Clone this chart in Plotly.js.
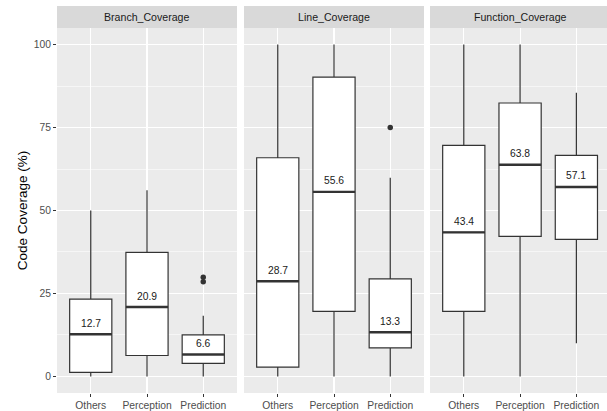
<!DOCTYPE html>
<html>
<head>
<meta charset="utf-8">
<script src="https://cdn.plot.ly/plotly-3.0.1.min.js"></script>
<style>html,body{margin:0;padding:0;background:#fff;}#chart{width:607px;height:411px;}</style>
</head>
<body>
<div id="chart"></div>
<script>
// ---- data ----
const categories = ["Others", "Perception", "Prediction"];
const panels = ["Branch_Coverage", "Line_Coverage", "Function_Coverage"];

const branchLower  = [0, 0, 0];
const branchQ1     = [1.2, 6.3, 3.9];
const branchMedian = [12.7, 20.9, 6.6];
const branchQ3     = [23.3, 37.4, 12.5];
const branchUpper  = [50, 56.1, 18.3];
const branchOutX   = ["Prediction", "Prediction"];
const branchOutY   = [28.5, 29.9];

const lineLower  = [0, 0, 0];
const lineQ1     = [2.8, 19.6, 8.6];
const lineMedian = [28.7, 55.6, 13.3];
const lineQ3     = [65.9, 90.2, 29.4];
const lineUpper  = [100, 100, 59.9];
const lineOutX   = ["Prediction"];
const lineOutY   = [75];

const funcLower  = [0, 0, 10.0];
const funcQ1     = [19.6, 42.2, 41.3];
const funcMedian = [43.4, 63.8, 57.1];
const funcQ3     = [69.6, 82.4, 66.6];
const funcUpper  = [100, 100, 85.5];
const funcOutX   = [];
const funcOutY   = [];

const yTicks = [0, 25, 50, 75, 100];
const yMinor = [12.5, 37.5, 62.5, 87.5];

// ---- build ----
const stats = [
  {lo: branchLower, q1: branchQ1, med: branchMedian, q3: branchQ3, hi: branchUpper, ox: branchOutX, oy: branchOutY},
  {lo: lineLower, q1: lineQ1, med: lineMedian, q3: lineQ3, hi: lineUpper, ox: lineOutX, oy: lineOutY},
  {lo: funcLower, q1: funcQ1, med: funcMedian, q3: funcQ3, hi: funcUpper, ox: funcOutX, oy: funcOutY}
];
const BW = 0.75;
const idx = categories.map((c, i) => i);
const traces = [];
const annotations = [];
const shapes = [];
const W = 607, H = 411, ML = 57, MT = 28, MB = 18;
const plotW = W - ML, plotH = H - MT - MB;
const stripTop = 6;
const FONT = 'Liberation Sans, Arial, sans-serif';

stats.forEach((s, k) => {
  const xa = k === 0 ? 'x' : 'x' + (k + 1);
  const ya = k === 0 ? 'y' : 'y' + (k + 1);
  traces.push({
    type: 'box', xaxis: xa, yaxis: ya,
    x: idx, q1: s.q1, median: s.med, q3: s.q3, lowerfence: s.lo, upperfence: s.hi,
    width: BW, whiskerwidth: 0, boxpoints: false,
    fillcolor: '#ffffff', line: {color: '#333333', width: 1.2},
    hoverinfo: 'skip', showlegend: false
  });
  const mx = [], my = [];
  s.med.forEach((m, i) => { mx.push(i - BW / 2, i + BW / 2, null); my.push(m, m, null); });
  traces.push({
    type: 'scatter', mode: 'lines', xaxis: xa, yaxis: ya, x: mx, y: my,
    line: {color: '#333333', width: 2.4}, hoverinfo: 'skip', showlegend: false
  });
  if (s.oy.length) {
    traces.push({
      type: 'scatter', mode: 'markers', xaxis: xa, yaxis: ya,
      x: s.ox.map(c => categories.indexOf(c)), y: s.oy,
      marker: {color: '#333333', size: 5.5}, hoverinfo: 'skip', showlegend: false
    });
  }
  s.med.forEach((m, i) => {
    annotations.push({
      xref: xa, yref: ya, x: i, y: m, text: m.toFixed(1), showarrow: false,
      yanchor: 'middle', yshift: 11,
      font: {family: FONT, size: 10.3, color: '#1a1a1a'}
    });
  });
  shapes.push({
    type: 'rect', xref: xa + ' domain', yref: 'paper', x0: 0, x1: 1,
    y0: 1, y1: 1 + (MT - stripTop) / plotH, fillcolor: '#d9d9d9', line: {width: 0}, layer: 'below'
  });
  annotations.push({
    xref: xa, yref: 'paper', x: 1, y: 1 + (MT - stripTop) / 2 / plotH, text: panels[k],
    showarrow: false, yanchor: 'middle',
    font: {family: FONT, size: 10.6, color: '#1a1a1a'}
  });
});

const tickFont = {family: FONT, size: 10.3, color: '#4d4d4d'};
function xAxis(domain, rangeEnd, anchor) {
  return {
    domain: domain, range: [-0.6, rangeEnd], anchor: anchor,
    tickmode: 'array', tickvals: idx, ticktext: categories,
    showgrid: true, gridcolor: '#ffffff', gridwidth: 1.1, zeroline: false,
    ticks: 'outside', ticklen: 3, tickwidth: 1, tickcolor: '#333333',
    tickfont: tickFont, showline: false, fixedrange: true
  };
}
function yAxis(anchor, main) {
  const a = {
    anchor: anchor, domain: [0, 1], range: [-5, 105],
    tickmode: 'array', tickvals: yTicks,
    showgrid: true, gridcolor: '#ffffff', gridwidth: 1.1, zeroline: false,
    minor: {tickmode: 'array', tickvals: yMinor, showgrid: true, gridcolor: '#ffffff', gridwidth: 0.55, ticks: ''},
    showline: false, fixedrange: true
  };
  if (main) {
    a.ticks = 'outside'; a.ticklen = 3; a.tickwidth = 1; a.tickcolor = '#333333';
    a.tickfont = tickFont;
    a.title = {text: 'Code Coverage (%)', standoff: 3,
      font: {family: FONT, size: 13.5, color: '#000000'}};
  } else {
    a.matches = 'y'; a.showticklabels = false; a.ticks = '';
  }
  return a;
}

const d1 = [0, 180 / plotW];
const d2 = [(244 - ML) / plotW, (424 - ML) / plotW];
const d3 = [(430 - ML) / plotW, 1];

const layout = {
  width: W, height: H,
  margin: {l: ML, r: 0, t: MT, b: MB, pad: 0},
  paper_bgcolor: '#ffffff', plot_bgcolor: '#ebebeb',
  showlegend: false,
  font: {family: FONT},
  xaxis: xAxis(d1, 2.6, 'y'),
  xaxis2: xAxis(d2, 2.6, 'y2'),
  xaxis3: xAxis(d3, -0.6 + (607 - 430) / 56.3, 'y3'),
  yaxis: yAxis('x', true),
  yaxis2: yAxis('x2', false),
  yaxis3: yAxis('x3', false),
  shapes: shapes, annotations: annotations
};

Plotly.newPlot('chart', traces, layout, {displayModeBar: false, staticPlot: true});
</script>
</body>
</html>
